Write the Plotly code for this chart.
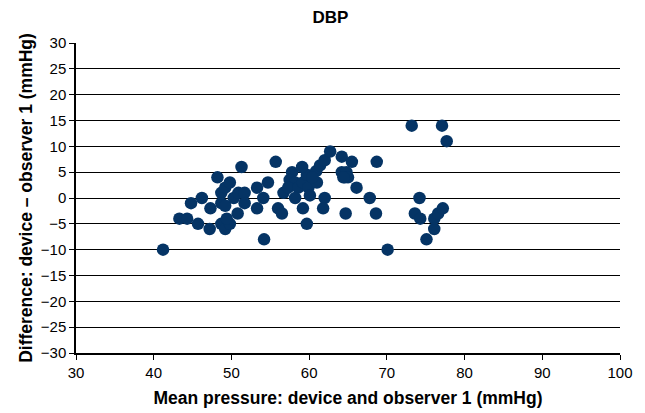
import plotly.graph_objects as go

mean_pressure = [41.2, 43.3, 44.3, 44.8, 45.7, 46.2, 47.2, 47.3, 48.2, 48.7,
                 48.7, 48.7, 49.2, 49.8, 49.2, 49.2, 49.8, 49.4, 50.3, 50.9,
                 51.7, 51.7, 50.8, 51.3, 53.3, 54.1, 54.7, 53.3, 54.2, 55.7,
                 56.0, 56.5, 56.7, 57.8, 57.5, 58.2, 57.3, 58.6, 58.2, 59.2,
                 59.9, 59.7, 60.1, 59.2, 59.7, 59.1, 60.9, 61.4, 62.0, 61.0,
                 62.0, 61.8, 60.4, 62.7, 64.2, 65.5, 64.2, 64.8, 64.6, 65.0,
                 64.4, 66.1, 64.7, 67.8, 68.7, 68.6, 70.1, 73.2, 77.1, 77.7,
                 74.2, 73.6, 74.3, 75.1, 76.1, 76.1, 76.6, 77.2]
difference = [-10, -4, -4, -1, -5, 0, -6, -2, 4, 1,
              -1, -5, 2, 3, -1.5, -6, -5, -4, 0, 1,
              1, -1, -3, 6, 2, 0, 3, -2, -8, 7,
              -2, -3, 1, 5, 3.5, 3, 2, 2, 0, 3,
              2, 4.5, 0.5, -2, -5, 6, 5.2, 6.3, 7.3, 3,
              0, -2, 4, 9, 8, 7, 5, 5, 4, 4,
              4, 2, -3, 0, 7, -3, -10, 14, 14, 11,
              0, -3, -4, -8, -6, -4, -3, -2]

title_text = "DBP"
x_title = "Mean pressure: device and observer 1 (mmHg)"
y_title = "Difference: device \u2013 observer 1 (mmHg)"
x_ticks = [30, 40, 50, 60, 70, 80, 90, 100]
y_ticks = [-30, -25, -20, -15, -10, -5, 0, 5, 10, 15, 20, 25, 30]

font_family = "Liberation Sans, Arial, sans-serif"

fig = go.Figure()
fig.add_trace(go.Scatter(
    x=mean_pressure, y=difference, mode="markers",
    marker=dict(size=12.5, color="#053465", line=dict(width=0)),
    showlegend=False,
))

fig.update_layout(
    width=645, height=413,
    margin=dict(l=68, r=33, t=35, b=68),
    paper_bgcolor="white", plot_bgcolor="white",
    font=dict(family=font_family, color="black", size=15),
    title=dict(text="<b>" + title_text + "</b>", x=0.5, xanchor="center",
               y=0.978, yanchor="middle", font=dict(size=17)),
)
fig.update_xaxes(
    range=[30, 100], tickvals=x_ticks, showgrid=False, zeroline=False,
    showline=True, linecolor="black", linewidth=1.5, automargin=False,
    ticks="outside", ticklen=5, tickcolor="black", tickwidth=1.2,
    title=dict(text="<b>" + x_title + "</b>", font=dict(size=17.5), standoff=12),
    tickfont=dict(size=15),
)
fig.update_yaxes(
    range=[-30, 30], tickvals=y_ticks, showgrid=True, gridcolor="black",
    gridwidth=1.2, zeroline=False, automargin=False,
    showline=True, linecolor="black", linewidth=1.5,
    ticks="outside", ticklen=5, tickcolor="black", tickwidth=1.2,
    title=dict(text="<b>" + y_title + "</b>", font=dict(size=17.5), standoff=4),
    tickfont=dict(size=15),
)

fig.write_html("out.html")
